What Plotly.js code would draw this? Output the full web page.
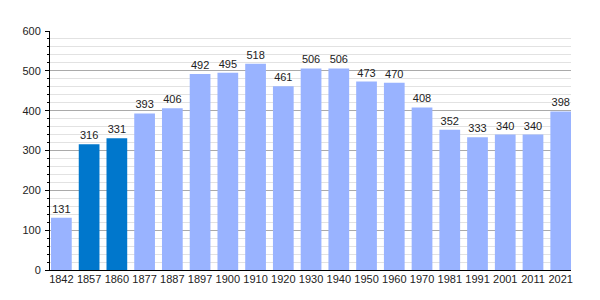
<!DOCTYPE html>
<html>
<head>
<meta charset="utf-8">
<script src="https://cdn.plot.ly/plotly-3.0.1.min.js"></script>
<style>html,body{margin:0;padding:0;background:#fff;}#chart{width:600px;height:300px;}</style>
</head>
<body>
<div id="chart"></div>
<script>
const years = ["1842","1857","1860","1877","1887","1897","1900","1910","1920","1930","1940","1950","1960","1970","1981","1991","2001","2011","2021"];
const population = [131,316,331,393,406,492,495,518,461,506,506,473,470,408,352,333,340,340,398];
const highlighted = ["1857","1860"];
const yTicks = [0,100,200,300,400,500,600];

const lightColor = "#99b3ff";
const darkColor = "#0077cc";
const colors = years.map(y => highlighted.includes(y) ? darkColor : lightColor);

const trace = {
  type: "bar",
  x: years,
  y: population,
  marker: {color: colors, line: {width: 0}},
  text: population.map(String),
  textposition: "outside",
  textfont: {family: "Liberation Sans, Arial, sans-serif", size: 11, color: "#222"},
  cliponaxis: false,
  hoverinfo: "none"
};

const layout = {
  width: 600, height: 300,
  margin: {l: 50, r: 29, t: 31, b: 30},
  paper_bgcolor: "#fff", plot_bgcolor: "#fff",
  bargap: 0.253,
  showlegend: false,
  font: {family: "Liberation Sans, Arial, sans-serif", size: 11, color: "#222"},
  xaxis: {
    type: "category",
    range: [-0.41, 18.37],
    showline: true, linecolor: "#000", linewidth: 1,
    ticks: "", showgrid: false, zeroline: false,
    tickfont: {size: 11, color: "#222"},
    ticklabelstandoff: -1
  },
  yaxis: {
    range: [0, 600],
    tickvals: yTicks,
    ticktext: yTicks.map(String),
    showline: true, linecolor: "#000", linewidth: 1,
    ticks: "outside", ticklen: 4, tickcolor: "#000",
    showgrid: true, gridcolor: "#aaaaaa", gridwidth: 1,
    zeroline: false,
    tickfont: {size: 11, color: "#222"},
    ticklabelstandoff: 2,
    minor: {dtick: 20, tick0: 0, showgrid: true, gridcolor: "#e2e2e2", gridwidth: 1, ticks: "outside", ticklen: 2, tickcolor: "#000"}
  }
};

Plotly.newPlot("chart", [trace], layout, {staticPlot: true, displayModeBar: false});
</script>
</body>
</html>
